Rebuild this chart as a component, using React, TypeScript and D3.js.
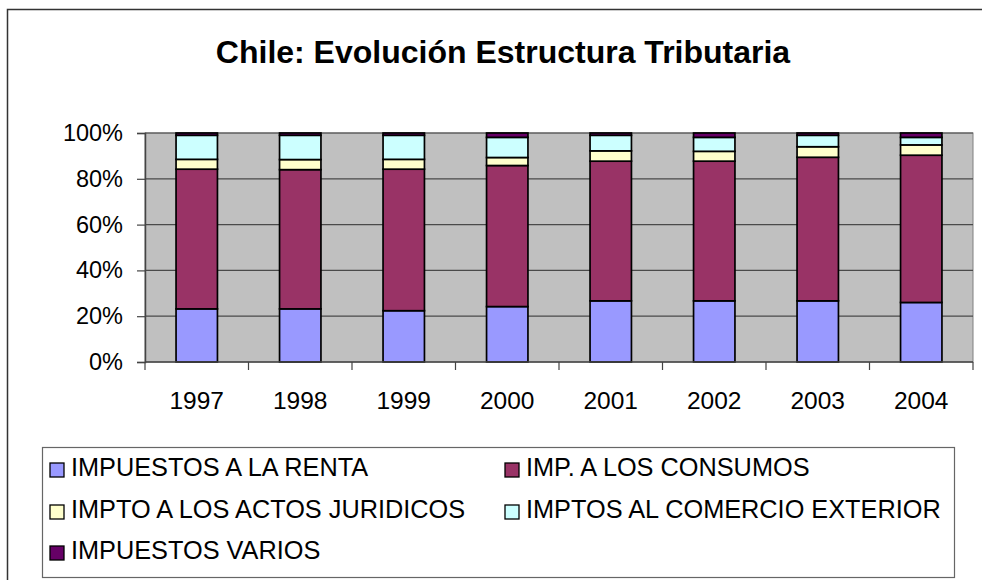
import React, { useEffect, useRef } from 'react';
import * as d3 from 'd3';

// Años (categorías)
const years = ['1997', '1998', '1999', '2000', '2001', '2002', '2003', '2004'];

// Participación (%) de cada tipo de impuesto
const renta = [23.2, 23.2, 22.4, 24.2, 26.7, 26.7, 26.7, 26.0];
const consumos = [61.0, 60.8, 61.8, 61.6, 61.0, 61.0, 62.7, 64.3];
const actosJuridicos = [4.3, 4.4, 4.3, 3.5, 4.5, 4.3, 4.6, 4.5];
const comercioExterior = [10.5, 10.6, 10.5, 8.8, 6.8, 6.1, 5.0, 3.3];
const varios = [1.0, 1.0, 1.0, 1.9, 1.0, 1.9, 1.0, 1.9];

const seriesNames = [
  'IMPUESTOS A LA RENTA',
  'IMP. A LOS CONSUMOS',
  'IMPTO A LOS ACTOS JURIDICOS',
  'IMPTOS AL COMERCIO EXTERIOR',
  'IMPUESTOS VARIOS',
];
const seriesColors = ['#9999FF', '#993366', '#FFFFCC', '#CCFFFF', '#660066'];
const yTicks = [0, 0.2, 0.4, 0.6, 0.8, 1];

const W = 982;
const H = 580;

const App: React.FC = () => {
  const ref = useRef<SVGSVGElement>(null);

  useEffect(() => {
    if (!ref.current) return;
    const svg = d3.select(ref.current);
    svg.selectAll('*').remove();

    const font = 'Arial, "Liberation Sans", sans-serif';
    const plot = { left: 145, right: 973, top: 133, bottom: 362 };

    // outer chart frame (runs past right/bottom edge in the reference)
    svg.append('rect')
      .attr('x', 7.5).attr('y', 9.5)
      .attr('width', W + 20).attr('height', H + 20)
      .attr('fill', '#fff').attr('stroke', '#333').attr('stroke-width', 1.5);

    // title
    svg.append('text')
      .attr('x', 503).attr('y', 63)
      .attr('text-anchor', 'middle')
      .attr('font-family', font).attr('font-weight', 'bold').attr('font-size', 32)
      .text('Chile: Evolución Estructura Tributaria');

    // normalise rows to proportions
    const rows = years.map((y, i) => {
      const vals = [renta[i], consumos[i], actosJuridicos[i], comercioExterior[i], varios[i]];
      const total = d3.sum(vals);
      const row: Record<string, number | string> = { year: y };
      seriesNames.forEach((n, k) => { row[n] = vals[k] / total; });
      return row;
    });
    const stacked = d3.stack<Record<string, number | string>>().keys(seriesNames)(rows as any);

    const x = d3.scaleBand().domain(years).range([plot.left, plot.right]).padding(0);
    const y = d3.scaleLinear().domain([0, 1]).range([plot.bottom, plot.top]);

    // plot area
    svg.append('rect')
      .attr('x', plot.left).attr('y', plot.top)
      .attr('width', plot.right - plot.left).attr('height', plot.bottom - plot.top)
      .attr('fill', '#C0C0C0').attr('stroke', '#808080').attr('stroke-width', 1);

    // gridlines
    svg.append('g')
      .selectAll('line')
      .data(yTicks.slice(1))
      .join('line')
      .attr('x1', plot.left).attr('x2', plot.right)
      .attr('y1', (d) => y(d)).attr('y2', (d) => y(d))
      .attr('stroke', '#4a4a4a').attr('stroke-width', 1.2);

    // bars
    const barW = x.bandwidth() * 0.4;
    svg.append('g')
      .selectAll('g')
      .data(stacked)
      .join('g')
      .attr('fill', (_, i) => seriesColors[i])
      .selectAll('rect')
      .data((d) => d)
      .join('rect')
      .attr('x', (d) => (x(d.data.year as string) as number) + (x.bandwidth() - barW) / 2)
      .attr('y', (d) => y(d[1]))
      .attr('width', barW)
      .attr('height', (d) => y(d[0]) - y(d[1]))
      .attr('stroke', '#000').attr('stroke-width', 1.7);

    // y axis
    const yAxis = d3.axisLeft(y).tickValues(yTicks).tickFormat(d3.format('.0%')).tickSize(8).tickPadding(14);
    svg.append('g')
      .attr('transform', `translate(${plot.left},0)`)
      .call(yAxis)
      .call((g) => g.select('.domain').attr('stroke', '#444').attr('stroke-width', 1.5))
      .call((g) => g.selectAll('.tick line').attr('stroke', '#444').attr('stroke-width', 1.2))
      .call((g) => g.selectAll('.tick text')
        .attr('fill', '#000').attr('font-size', 23.5).attr('font-family', font));

    // x axis: ticks at category boundaries
    svg.append('line')
      .attr('x1', plot.left).attr('x2', plot.right)
      .attr('y1', plot.bottom).attr('y2', plot.bottom)
      .attr('stroke', '#444').attr('stroke-width', 1.5);
    const boundaries = d3.range(years.length + 1).map((i) => plot.left + i * x.step());
    svg.append('g')
      .selectAll('line')
      .data(boundaries)
      .join('line')
      .attr('x1', (d) => d).attr('x2', (d) => d)
      .attr('y1', plot.bottom).attr('y2', plot.bottom + 8)
      .attr('stroke', '#444').attr('stroke-width', 1.2);
    svg.append('g')
      .selectAll('text')
      .data(years)
      .join('text')
      .attr('x', (d) => (x(d) as number) + x.bandwidth() / 2)
      .attr('y', 409)
      .attr('text-anchor', 'middle')
      .attr('font-family', font).attr('font-size', 24.5)
      .text((d) => d);

    // legend
    svg.append('rect')
      .attr('x', 42.5).attr('y', 447.5)
      .attr('width', 912).attr('height', 130)
      .attr('fill', '#fff').attr('stroke', '#666').attr('stroke-width', 1.2);
    const colX = [50, 505];
    const rowY = [476, 518, 559];
    const items = svg.append('g')
      .selectAll('g')
      .data(seriesNames)
      .join('g')
      .attr('transform', (_, i) => `translate(${colX[i % 2]},${rowY[Math.floor(i / 2)]})`);
    items.append('rect')
      .attr('x', 0).attr('y', -13)
      .attr('width', 14).attr('height', 14)
      .attr('fill', (_, i) => seriesColors[i])
      .attr('stroke', '#000').attr('stroke-width', 1.3);
    items.append('text')
      .attr('x', 21).attr('y', 0)
      .attr('font-family', font).attr('font-size', 25.3)
      .text((d) => d);
  }, []);

  return (
    <svg
      ref={ref}
      width={W}
      height={H}
      style={{ position: 'absolute', left: 0, top: 0, background: '#fff' }}
    />
  );
};

export default App;
